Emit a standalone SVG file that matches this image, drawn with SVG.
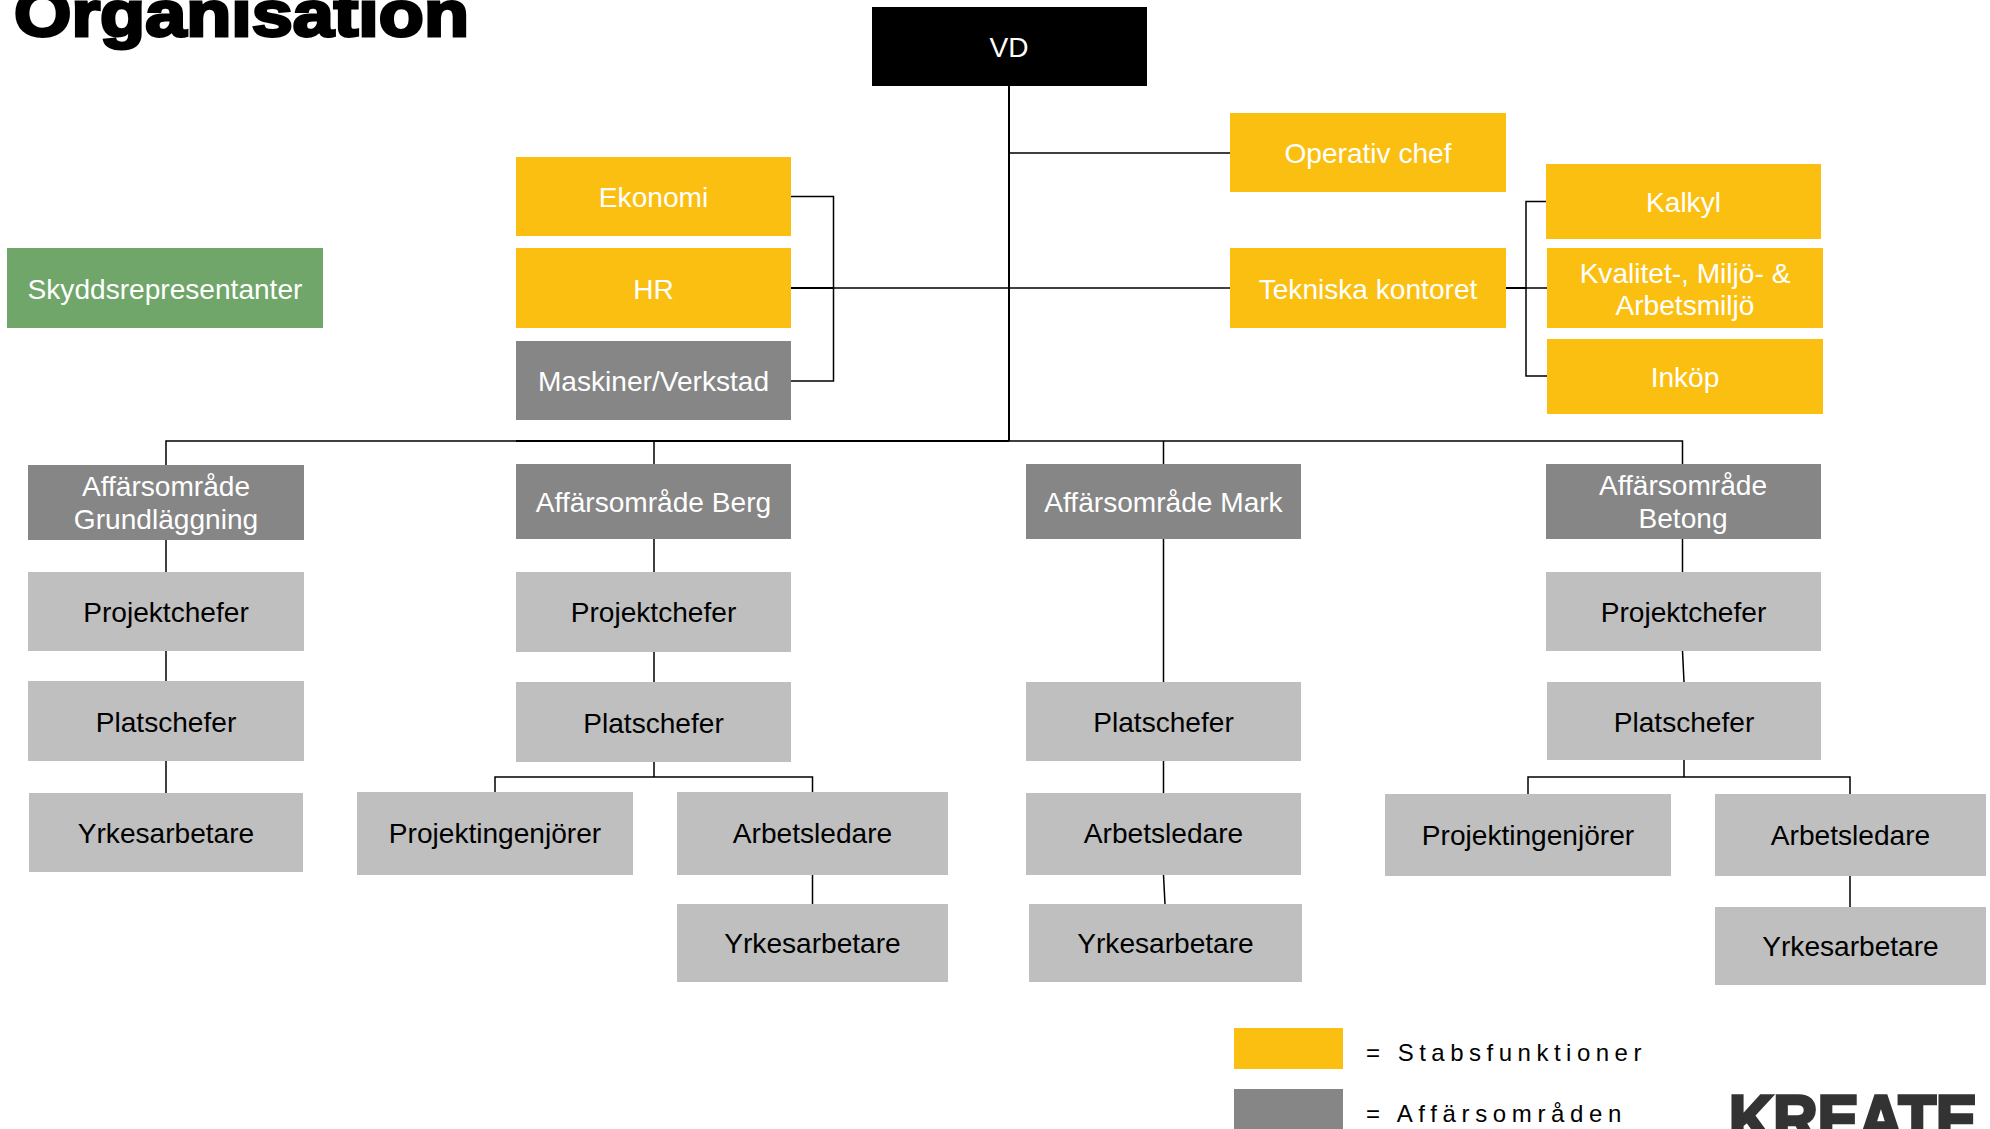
<svg xmlns="http://www.w3.org/2000/svg" width="1990" height="1129" viewBox="0 0 1990 1129">
<style>
text{font-family:"Liberation Sans",Arial,sans-serif;font-size:28.100px;text-anchor:middle}
.y{fill:#FBBF12}.g{fill:#868686}.l{fill:#BFBFBF}.k{fill:#000}.s{fill:#70A66A}
.w{fill:#fff}.b{fill:#000}
.c{fill:none;stroke:#000;stroke-width:1.5}
.h{fill:none;stroke:#000;stroke-width:2}
.t{fill:#000;stroke:#000;stroke-width:3px;font-weight:700;font-size:65px;text-anchor:start}
.leg{fill:#000;font-size:24px;text-anchor:start;letter-spacing:5.5px}
.logo{fill:#333;stroke:#333;stroke-width:3.500px;font-weight:700;font-size:66px;text-anchor:start}
</style>
<rect width="1990" height="1129" fill="#fff"/>
<text class="t" x="14" y="36" textLength="455" lengthAdjust="spacingAndGlyphs">Organisation</text>
<g id="connectors">
<path class="h" d="M1009 86V441M791 288H833M1506 288H1526M516 441H1009"/>
<path class="c" d="M1009 153H1230M791 288H1230"/>
<path class="c" d="M791 196.500H833.500V381H791"/>
<path class="c" d="M1506 288H1547M1546 201.500H1526V376H1547"/>
<path class="c" d="M166 465V441H1682.500V464M654 441V464M1163.500 441V464"/>
<path class="c" d="M166 540V793"/>
<path class="c" d="M654 539V682M654 762V777M495 792V777H812.500V792M812.500 875V904"/>
<path class="c" d="M1163.500 539V793M1163.500 875L1165 904"/>
<path class="c" d="M1682.500 539V651L1684 682M1684 760V777M1528 794V777H1850V794M1850 876V907"/>
</g>
<g id="vd"><rect class="k" x="872" y="7" width="275" height="79"/><text class="w" x="1009" y="57">VD</text></g>
<g id="operativ"><rect class="y" x="1230" y="113" width="276" height="79"/><text class="w" x="1368" y="163">Operativ chef</text></g>
<g id="ekonomi"><rect class="y" x="516" y="157" width="275" height="79"/><text class="w" x="653.500" y="207">Ekonomi</text></g>
<g id="hr"><rect class="y" x="516" y="248" width="275" height="80"/><text class="w" x="653.500" y="299">HR</text></g>
<g id="maskiner"><rect class="g" x="516" y="341" width="275" height="79"/><text class="w" x="653.500" y="391">Maskiner/Verkstad</text></g>
<g id="skydd"><rect class="s" x="7" y="248" width="316" height="80"/><text class="w" x="165" y="299">Skyddsrepresentanter</text></g>
<g id="tekniska"><rect class="y" x="1230" y="248" width="276" height="80"/><text class="w" x="1368" y="299">Tekniska kontoret</text></g>
<g id="kalkyl"><rect class="y" x="1546" y="164" width="275" height="75"/><text class="w" x="1683.500" y="212">Kalkyl</text></g>
<g id="kvalitet"><rect class="y" x="1547" y="248" width="276" height="80"/><text class="w" x="1685" y="283">Kvalitet-, Miljö- &amp;</text><text class="w" x="1685" y="315">Arbetsmiljö</text></g>
<g id="inkop"><rect class="y" x="1547" y="339" width="276" height="75"/><text class="w" x="1685" y="387">Inköp</text></g>
<g id="af-grund"><rect class="g" x="28" y="465" width="276" height="75"/><text class="w" x="166" y="496">Affärsområde</text><text class="w" x="166" y="529">Grundläggning</text></g>
<g id="af-berg"><rect class="g" x="516" y="464" width="275" height="75"/><text class="w" x="653.500" y="512">Affärsområde Berg</text></g>
<g id="af-mark"><rect class="g" x="1026" y="464" width="275" height="75"/><text class="w" x="1163.500" y="512">Affärsområde Mark</text></g>
<g id="af-betong"><rect class="g" x="1546" y="464" width="275" height="75"/><text class="w" x="1683" y="495">Affärsområde</text><text class="w" x="1683" y="528">Betong</text></g>
<g id="pc1"><rect class="l" x="28" y="572" width="276" height="79"/><text class="b" x="166" y="622">Projektchefer</text></g>
<g id="pl1"><rect class="l" x="28" y="681" width="276" height="80"/><text class="b" x="166" y="732">Platschefer</text></g>
<g id="yr1"><rect class="l" x="29" y="793" width="274" height="79"/><text class="b" x="166" y="843">Yrkesarbetare</text></g>
<g id="pc2"><rect class="l" x="516" y="572" width="275" height="80"/><text class="b" x="653.500" y="622">Projektchefer</text></g>
<g id="pl2"><rect class="l" x="516" y="682" width="275" height="80"/><text class="b" x="653.500" y="733">Platschefer</text></g>
<g id="pi2"><rect class="l" x="357" y="792" width="276" height="83"/><text class="b" x="495" y="843">Projektingenjörer</text></g>
<g id="ar2"><rect class="l" x="677" y="792" width="271" height="83"/><text class="b" x="812.500" y="843">Arbetsledare</text></g>
<g id="yr2"><rect class="l" x="677" y="904" width="271" height="78"/><text class="b" x="812.500" y="953">Yrkesarbetare</text></g>
<g id="pl3"><rect class="l" x="1026" y="682" width="275" height="79"/><text class="b" x="1163.500" y="732">Platschefer</text></g>
<g id="ar3"><rect class="l" x="1026" y="793" width="275" height="82"/><text class="b" x="1163.500" y="843">Arbetsledare</text></g>
<g id="yr3"><rect class="l" x="1029" y="904" width="273" height="78"/><text class="b" x="1165.500" y="953">Yrkesarbetare</text></g>
<g id="pc4"><rect class="l" x="1546" y="572" width="275" height="79"/><text class="b" x="1683.500" y="622">Projektchefer</text></g>
<g id="pl4"><rect class="l" x="1547" y="682" width="274" height="78"/><text class="b" x="1684" y="732">Platschefer</text></g>
<g id="pi4"><rect class="l" x="1385" y="794" width="286" height="82"/><text class="b" x="1528" y="845">Projektingenjörer</text></g>
<g id="ar4"><rect class="l" x="1715" y="794" width="271" height="82"/><text class="b" x="1850.500" y="845">Arbetsledare</text></g>
<g id="yr4"><rect class="l" x="1715" y="907" width="271" height="78"/><text class="b" x="1850.500" y="956">Yrkesarbetare</text></g>
<g id="legend-stab"><rect class="y" x="1234" y="1028" width="109" height="41"/><text class="leg" x="1366" y="1061">= Stabsfunktioner</text></g>
<g id="legend-affar"><rect class="g" x="1234" y="1089" width="109" height="40"/><text class="leg" x="1366" y="1122" style="letter-spacing:5.650px">= Affärsområden</text></g>
<text class="logo" x="1729" y="1142" textLength="248" lengthAdjust="spacingAndGlyphs">KREATE</text>
</svg>
